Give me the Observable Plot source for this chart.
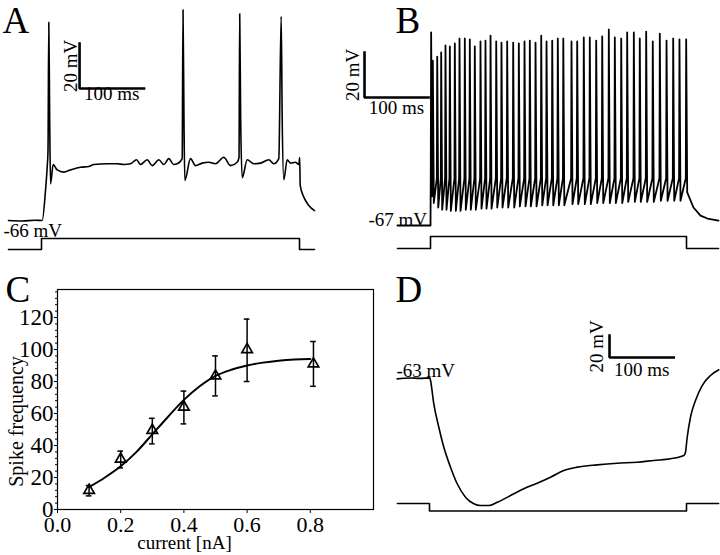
<!DOCTYPE html>
<html><head><meta charset="utf-8">
<script src="https://cdn.jsdelivr.net/npm/d3@7"></script>
<script src="https://cdn.jsdelivr.net/npm/@observablehq/plot@0.6"></script>
<style>
html,body{margin:0;padding:0;background:#fff;}
#fig{position:relative;width:720px;height:555px;overflow:hidden;background:#fff;}
#fig svg{position:absolute;overflow:visible;}
</style></head><body><div id="fig"></div>
<script>
// ---------------- DATA ----------------
// Panel A: membrane potential trace (time ms, mV), resting -66 mV
const restA = -66;
const traceA = [
[-51.2,-66],[-30,-66.2],[-10,-65.9],[1.1,-66],[6.2,-52.7],[8.8,-42.3],[10.1,-34.9],[11.3,22.1],[12.7,-21.6],[14.0,-49.7],
[18.1,-41.1],[24.3,-43.5],[34.6,-44.5],[45.0,-43.5],[60.5,-42.3],[73.3,-42],[81.1,-41.1],[101.9,-40.8],[117.4,-40.8],
[127.6,-41.1],[138.0,-40.8],[147.3,-39],[153.5,-41.1],[163.9,-39],[171.6,-41.6],[181.9,-39],[189.6,-41.1],[197.4,-38.5],
[205.1,-41.1],[210.4,-40.8],[218.1,-38.5],[219.4,27.6],[220.9,-21.6],[222.2,-48.2],[231.0,-38.5],[238.8,-41.6],[249.1,-40.5],
[259.4,-40.1],[269.8,-40.8],[282.6,-37.9],[293.0,-41.6],[303.4,-40.1],[306.2,-38],[307.3,25.9],[308.8,-21.6],[311.2,-47.0],
[318.9,-39],[329.1,-40.8],[339.5,-40.5],[352.4,-39],[360.2,-40.8],[367.9,-38.5],[371.6,24.7],[373.2,-21.6],[375.7,-47.9],
[380.9,-39],[386.0,-40.5],[393.8,-40.1],[398.9,-41.1],[400.3,-38],[401.1,-50.4],[406.7,-55.6],[414.4,-59.3],[423.3,-61.6]
];
const stimA_t = [-51.2, 0, 0, 400, 400, 423.3];
const stimA_i = [0, 0, 1, 1, 0, 0];

// Panel B: tonic firing, resting -67 mV
const restB = -67;
const spikeThresholdB = -46;
const spikeTimesB = [1,3.6,10.5,16.7,23.4,30.2,38,45.3,53.6,61.4,69.2,78.1,85.9,93.8,102.7,110.9,119.8,129.2,138,146.9,
155.2,164.1,173,181.3,190.2,198.9,207.5,220.3,229.2,239.5,248.9,258.9,268.3,278.6,288,298,307.3,317.7,327,337,
347.3,358.3,368.8,379.2,389,399.5];
const spikePeaksB = [18.8,6.3,8.1,9.9,13,12.6,13.9,16.1,16.1,15.7,12.6,14.8,15.2,17.4,14.8,14.3,14.8,14.3,13.9,14.8,
15.2,14.3,17.4,14.8,15.2,16.1,16.1,14.8,14.8,16.6,16.6,15.2,17,20.1,16.6,16.1,18.8,18.8,16.1,19.2,14.8,18.3,15.2,16.1,15.7,15.7];
const spikeTroughsB = [-54,-57,-59,-60,-60,-60.5,-60.5,-60.5,-60,-60,-60,-59.5,-59.5,-59.5,-59,-59,-59,-59,-58.5,-58.5,
-58.5,-58.5,-58,-58,-58,-58,-58,-57.5,-57.5,-57.5,-57.5,-57,-57,-57,-57,-57,-56.5,-56.5,-56.5,-56.5,-56.5,-56,-56,-56,-56,-56];
const decayB = [[401.1,-52.3],[410.9,-59],[421.9,-62.6],[432.8,-63.9],[450,-64.8]];
const stimB_t = [-51.6, 0, 0, 400, 400, 450];
const stimB_i = [0, 0, 1, 1, 0, 0];

// Panel C: frequency-current relation
const currents = [0.1, 0.2, 0.3, 0.4, 0.5, 0.6, 0.81];
const freqMean = [12, 31.5, 49.5, 64, 83.5, 100, 91];
const freqLow  = [8.5, 26, 41, 53.5, 71, 80, 77];
const freqHigh = [15, 36.5, 57, 74, 96, 119, 105];
const fitCurrent = [0.1,0.15,0.2,0.25,0.3,0.35,0.4,0.45,0.5,0.55,0.6,0.65,0.7,0.75,0.8];
const fitFreq    = [14,20,27,36,47,58,68.5,77,83.5,87.3,90,91.8,93,93.7,94];
const xTickValues = [0, 0.2, 0.4, 0.6, 0.8];
const yTickValues = [0, 20, 40, 60, 80, 100, 120];

// Panel D: hyperpolarising step, resting -63 mV
const restD = -63;
const traceD = [
[-50.3,-63.3],[-40,-62.8],[-29.6,-62.5],[-15,-62.9],[0.5,-62.4],[1.6,-64.8],[6.7,-86],[14.5,-107.3],[22.3,-125.5],[32.7,-143.6],
[43.1,-158.7],[56,-170.9],[69,-176.9],[79.4,-178.5],[92.3,-178.5],[105.4,-175.5],[126.1,-169.4],[146.8,-163.3],
[167.6,-158.2],[188.3,-152.7],[209,-146.6],[229.9,-143.6],[261,-141.5],[292.1,-140],[323.3,-139.1],[349.1,-137.5],
[375.1,-136],[395.8,-133],[398.4,-130],[401.1,-116.4],[406.2,-98.2],[414,-83],[424.4,-69.4],[437.3,-60.3],[450.3,-55.1]
];
const stimD_t = [-50, 0, 0, 400, 400, 450];
const stimD_i = [0, 0, -1, -1, 0, 0];

const scaleMV = 20, scaleMS = 100;

// ---------------- DRAWING ----------------
const FONT = '"Liberation Serif", "Times New Roman", Times, serif';
const fig = document.getElementById("fig");
const baseStyle = {background: "transparent", fontFamily: FONT, color: "black", overflow: "visible"};
function add(svg, left, top) { svg.style.left = left + "px"; svg.style.top = top + "px"; fig.appendChild(svg); }
const toPts = arr => arr.map(([t, v]) => ({t, v}));
const zip = (ts, vs) => ts.map((t, i) => ({t, v: vs[i]}));

function tracePlot(width, height, xDom, yDom, marks) {
  return Plot.plot({width, height, margin: 0,
    x: {domain: xDom, axis: null}, y: {domain: yDom, axis: null},
    style: baseStyle, marks});
}
function scaleBar(t0, v0) {
  return [{t: t0, v: v0 + scaleMV}, {t: t0, v: v0}, {t: t0 + scaleMS, v: v0}];
}
function scaleMarks(t0, v0, dxV, dyT) {
  return [
    Plot.line(scaleBar(t0, v0), {x: "t", y: "v", stroke: "black", strokeWidth: 2.6, strokeLinejoin: "miter", strokeLinecap: "square"}),
    Plot.text([`${scaleMV} mV`], {x: t0, y: v0 + scaleMV / 2, rotate: -90, dx: dxV, fontSize: 19, lineAnchor: "middle", textAnchor: "middle", fill: "black"}),
    Plot.text([`${scaleMS} ms`], {x: t0 + scaleMS / 2, y: v0, dy: dyT, fontSize: 19, lineAnchor: "top", textAnchor: "middle", fill: "black"})
  ];
}
function letter(L, dx, dy) {
  return Plot.text([L], {frameAnchor: "top-left", dx, dy, fontSize: 37, lineAnchor: "top", textAnchor: "start", fill: "black"});
}
const lineOpts = {x: "t", y: "v", stroke: "black", strokeWidth: 1.6};

// ---- Panel A ----
add(tracePlot(360, 260, [-41 / 0.645, 319 / 0.645], [restA - 40 / 2.25, restA + 220 / 2.25], [
  Plot.line(toPts(traceA), {...lineOpts, curve: "monotone-x"}),
  ...scaleMarks(59, -7.3, -9, -2),
  Plot.text([`${restA} mV`], {x: stimA_t[0], y: restA, dx: -5, dy: 3, fontSize: 19, lineAnchor: "top", textAnchor: "start", fill: "black"}),
  letter("A", 2, 6)
]), 0, 0);
add(tracePlot(360, 30, [-41 / 0.645, 319 / 0.645], [-1, 19 / 11], [
  Plot.line(zip(stimA_t, stimA_i), lineOpts)
]), 0, 230);

// ---- Panel B ----
const traceB = [{t: stimB_t[0], v: restB}, {t: 0, v: restB}];
spikeTimesB.forEach((ts, i) => {
  traceB.push({t: ts - 0.6, v: spikeThresholdB});
  traceB.push({t: ts, v: spikePeaksB[i]});
  if (i < spikeTimesB.length - 1) traceB.push({t: ts + 1.6, v: spikeTroughsB[i]});
});
decayB.forEach(([t, v]) => traceB.push({t, v}));
add(tracePlot(390, 260, [-100 / 0.64, 290 / 0.64], [restB - 35 / 2.25, restB + 225 / 2.25], [
  Plot.line(traceB, {...lineOpts, strokeWidth: 1.8}),
  ...scaleMarks(-103.1, -10.1, -12, 3),
  Plot.text([`${restB} mV`], {x: stimB_t[0], y: restB, dx: -29, dy: -13, fontSize: 19, lineAnchor: "top", textAnchor: "start", fill: "black"}),
  letter("B", 65, 6)
]), 330, 0);
add(tracePlot(390, 30, [-100 / 0.64, 290 / 0.64], [-10 / 12, 20 / 12], [
  Plot.line(zip(stimB_t, stimB_i), lineOpts)
]), 330, 228);

// ---- Panel C ----
const fi = currents.map((c, i) => ({c, m: freqMean[i], lo: freqLow[i], hi: freqHigh[i]}));
const fit = fitCurrent.map((c, i) => ({c, f: fitFreq[i]}));
const cap = 0.009;
add(Plot.plot({
  width: 380, height: 285, marginTop: 19, marginLeft: 57, marginRight: 7, marginBottom: 46,
  x: {domain: [0, 1]}, y: {domain: [0, 137.5]},
  style: baseStyle,
  marks: [
    Plot.frame({stroke: "black", strokeWidth: 1.2}),
    Plot.axisX(xTickValues, {tickFormat: d3.format(".1f"), tickSize: 4, tickPadding: 3, fontSize: 22, label: null, stroke: "black"}),
    Plot.axisY(yTickValues, {tickSize: 3, tickPadding: 1, fontSize: 23, label: null, stroke: "black"}),
    Plot.axisY(d3.range(0, 137, 4), {tickSize: 2, text: null, label: null, stroke: "black"}),
    Plot.ruleX(fi, {x: "c", y1: "lo", y2: "hi", stroke: "black", strokeWidth: 1.5}),
    Plot.ruleY(fi, {y: "lo", x1: d => d.c - cap, x2: d => d.c + cap, stroke: "black", strokeWidth: 1.5}),
    Plot.ruleY(fi, {y: "hi", x1: d => d.c - cap, x2: d => d.c + cap, stroke: "black", strokeWidth: 1.5}),
    Plot.line(fit, {x: "c", y: "f", curve: "catmull-rom", stroke: "black", strokeWidth: 2}),
    Plot.dot(fi, {x: "c", y: "m", symbol: "triangle", r: 3.9, stroke: "black", strokeWidth: 1.7, fill: "none"}),
    Plot.text(["current [nA]"], {frameAnchor: "bottom", dx: -31, dy: 26, fontSize: 19, lineAnchor: "top", fill: "black"}),
    Plot.text(["Spike frequency"], {frameAnchor: "left", dx: -41, dy: 22, rotate: -90, fontSize: 20, lineAnchor: "middle", textAnchor: "middle", fill: "black"}),
    Plot.text(["C"], {frameAnchor: "top-left", dx: -52, dy: -14, fontSize: 37, lineAnchor: "top", textAnchor: "start", fill: "black"})
  ]
}), 0, 270);

// ---- Panel D ----
add(tracePlot(350, 285, [-59 / 0.6425, 291 / 0.6425], [restD - 177 / 1.1, restD + 108 / 1.1], [
  Plot.line(toPts(traceD), {...lineOpts, curve: "monotone-x"}),
  ...scaleMarks(280.2, -43.9, -13, 5),
  Plot.text([`${restD} mV`], {x: stimD_t[0], y: restD, dx: -1, dy: -15, fontSize: 19, lineAnchor: "top", textAnchor: "start", fill: "black"}),
  letter("D", 25, 5)
]), 370, 270);
add(tracePlot(350, 30, [-59 / 0.6425, 291 / 0.6425], [-17 / 7.5, 13 / 7.5], [
  Plot.line(zip(stimD_t, stimD_i), lineOpts)
]), 370, 490);
</script>
</body></html>
